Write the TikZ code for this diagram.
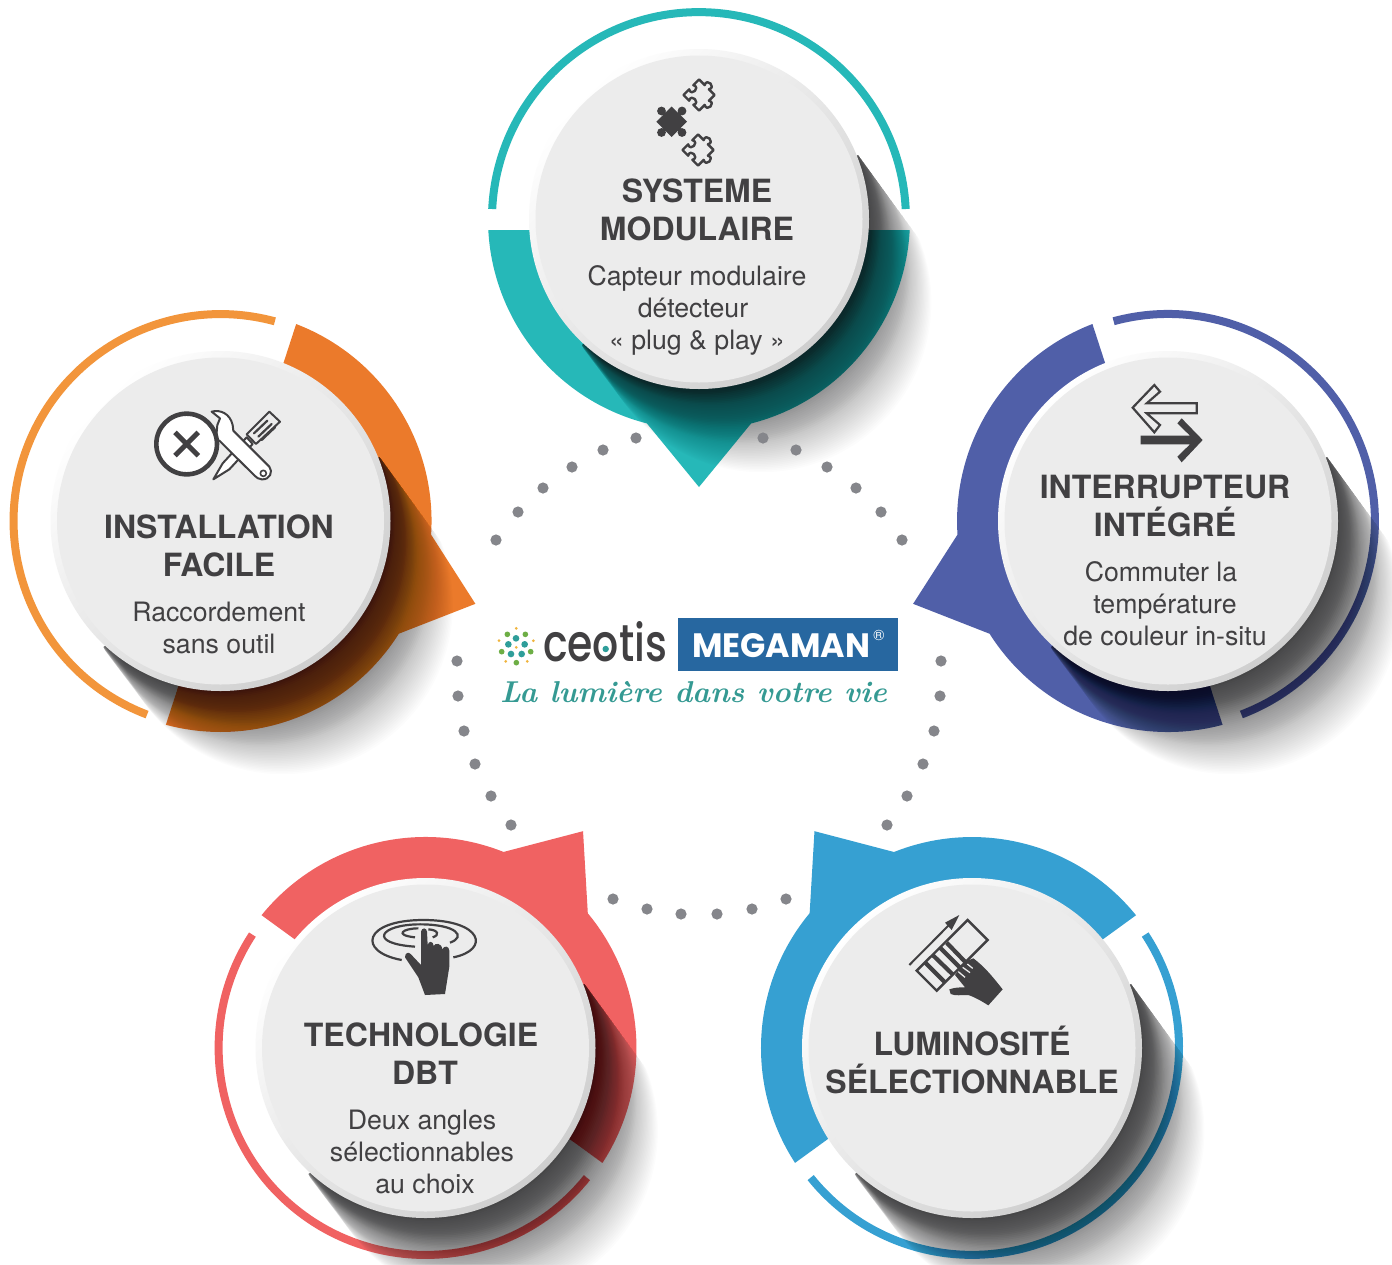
\documentclass[tikz,border=0pt]{standalone}
\usepackage{fontspec}
\usepackage{graphicx}
\setmainfont{TeX Gyre Heros}
\newfontfamily\pop{Poppins}
\newfontfamily\popm{Poppins Medium}
\definecolor{ink}{HTML}{414042}
\definecolor{dotgrey}{HTML}{85868B}
\definecolor{teal}{HTML}{26B8B8}
\definecolor{orangeA}{HTML}{EB7A2B}
\definecolor{orangeB}{HTML}{F2953B}
\definecolor{indigo}{HTML}{505FA8}
\definecolor{coral}{HTML}{F06262}
\definecolor{sky}{HTML}{36A0D2}
\definecolor{shadowcol}{HTML}{0A0A0C}
\definecolor{megablue}{HTML}{2767A0}
\definecolor{tagteal}{HTML}{359A93}
\definecolor{logoteal}{HTML}{2E9E9A}
\definecolor{logogreen}{HTML}{6DAE45}
\definecolor{logoyellow}{HTML}{F0B43C}
\tikzset{
  titletxt/.style={anchor=base,text=ink,inner sep=0pt,font=\fontsize{32}{38}\selectfont\bfseries},
  bodytxt/.style={anchor=base,text=ink,inner sep=0pt,font=\fontsize{26.7}{32}\selectfont},
  dotmark/.style={fill=dotgrey},
  iconline/.style={draw=ink,line join=round,line cap=round},
}
\newcommand{\modshape}[5]{%
  \begin{scope}[shift={(#1,#2)},rotate=#3]
    \fill[#4] (-210.7,11) arc[start angle=177,end angle=104.3,radius=211]
      -- (0,268) -- (52.1,204.5) arc[start angle=75.7,end angle=3,radius=211] -- cycle;
    \draw[#5,line width=8pt] (-206.8,-10) arc[start angle=182.8,end angle=357.2,radius=207];
  \end{scope}}
\newcommand{\modshadow}[2]{%
  \begin{scope}[shift={(#1,#2)}]
    \clip (159,-64) -- ++(236,324) -- ++(-400,100) -- (-117,126) -- cycle;
    \foreach \t in {2,4,...,104}{
      \pgfmathsetmacro\al{\t<30?0.04:(\t<50?0.026:(\t<70?0.018:0.013))}
      \fill[shadowcol,opacity=\al] ({\t*0.6},{\t*0.8}) circle[radius=170];
    }
  \end{scope}}
\newcommand{\moddisc}[2]{%
  \begin{scope}[shift={(#1,#2)}]
    \shade[top color=white,bottom color=D4col,shading angle=45] (0,0) circle[radius=170];
    \fill[facecol] (0,0) circle[radius=163.5];
  \end{scope}}
\definecolor{D4col}{HTML}{CECECE}
\definecolor{facecol}{HTML}{ECECEC}
\newcommand{\puzzle}[3]{%
  \draw[iconline,line width=2.4pt,shift={(#1,#2)},rotate=#3]
    (-11,-11) -- (-3,-11) .. controls (-7,-18) and (7,-18) .. (3,-11) -- (11,-11)
    -- (11,-3) .. controls (18,-7) and (18,7) .. (11,3) -- (11,11)
    -- (3,11) .. controls (7,4) and (-7,4) .. (-3,11) -- (-11,11)
    -- (-11,3) .. controls (-4,7) and (-4,-7) .. (-11,-3) -- cycle;}
\begin{document}
\begin{tikzpicture}[x=1pt,y=1pt,yscale=-1]
\useasboundingbox (0,0) rectangle (1392,1264);
\fill[white] (0,0) rectangle (1392,1264);

% coloured shapes
\modshape{699}{219}{0}{teal}{teal}
\modshape{220.5}{521}{-72}{orangeA}{orangeB}
\modshape{1168}{521}{72}{indigo}{indigo}
\modshape{425.5}{1048}{-144}{coral}{coral}
\modshape{972}{1048}{144}{sky}{sky}

% long shadows
\modshadow{699}{219}
\modshadow{220.5}{521}
\modshadow{1168}{521}
\modshadow{425.5}{1048}
\modshadow{972}{1048}

% discs
\moddisc{699}{219}
\moddisc{220.5}{521}
\moddisc{1168}{521}
\moddisc{425.5}{1048}
\moddisc{972}{1048}

% dotted ring
\foreach \x/\y in {636/438,603/450,572/467,543/488,518/512,496/540,
  763/438,796/450,827/467,856/488,881/512,902/540,
  457/661,458/696,464/731,475/764,491/796,511/825,
  941/661,940/696,934/731,923/764,907/796,887/825,
  613/899,647/909,681/914,717/914,752/909,786/899}
  \fill[dotmark] (\x,\y) circle[radius=5.6];

% top texts
\node[titletxt] (t1a) at (697,202) {SYSTEME};
\node[titletxt] (t1b) at (697,240) {MODULAIRE};
\node[bodytxt] (b1a) at (697,285) {Capteur modulaire};
\node[bodytxt] (b1b) at (693,317) {détecteur};
\node[bodytxt] (b1c) at (697,349) {« plug \& play »};
% left
\node[titletxt] (t2a) at (219,538) {INSTALLATION};
\node[titletxt] (t2b) at (219,576) {FACILE};
\node[bodytxt] (b2a) at (219,621) {Raccordement};
\node[bodytxt] (b2b) at (219,653) {sans outil};
% right
\node[titletxt] (t3a) at (1165,498) {INTERRUPTEUR};
\node[titletxt] (t3b) at (1165,536) {INTÉGRÉ};
\node[bodytxt] (b3a) at (1161,581) {Commuter la};
\node[bodytxt] (b3b) at (1165,613) {température};
\node[bodytxt] (b3c) at (1165,645) {de couleur in-situ};
% bottom left
\node[titletxt] (t4a) at (421,1046) {TECHNOLOGIE};
\node[titletxt] (t4b) at (425,1084) {DBT};
\node[bodytxt] (b4a) at (422,1129) {Deux angles};
\node[bodytxt] (b4b) at (422,1161) {sélectionnables};
\node[bodytxt] (b4c) at (425,1193) {au choix};
% bottom right
\node[titletxt] (t5a) at (972,1055) {LUMINOSITÉ};
\node[titletxt] (t5b) at (972,1093) {SÉLECTIONNABLE};

% puzzle icon
\fill[ink] (671.7,106.5) -- (687,121.7) -- (671.7,137) -- (656.4,121.7) -- cycle;
\foreach \x in {661.5,682}{\foreach \y in {111,132.5}{
  \fill[ink] (\x,\y) circle[radius=4.4];
  \draw[ink,line width=4pt] (671.7,121.7) -- (\x,\y);}}
\puzzle{699}{95}{45}
\puzzle{698}{150}{45}

% tools icon
\begin{scope}[shift={(130,400)},scale=1/3]
  \draw[iconline,line width=2pt,fill=facecol] (418,35) -- (450,65) -- (378,132) -- (350,103) -- cycle;
  \draw[iconline,line width=2.2pt] (372,100) -- (412,62) (385,110) -- (425,72) (395,120) -- (435,82);
  \draw[iconline,line width=2pt,fill=white] (350,112) -- (368,132) -- (298,208) -- (250,238) -- (278,190) -- cycle;
  \draw[iconline,line width=2pt,fill=white]
    (245,35) .. controls (270,28) and (300,40) .. (308,75) -- (310,92) -- (418,200)
    .. controls (430,215) and (420,240) .. (395,238) .. controls (385,238) and (380,232) .. (375,228)
    -- (268,122) -- (258,118) -- (262,75) -- (270,55) -- cycle;
  \draw[iconline,line width=1.6pt] (400,220) circle[radius=9];
  \draw[draw=ink,fill=white,line width=4.6pt] (170,132) circle[radius=91];
  \draw[draw=ink,line width=5pt] (135,97) -- (205,167) (205,97) -- (135,167);
\end{scope}

% arrows icon
\begin{scope}[shift={(1110,370)},scale=1/3]
  \draw[iconline,line width=2.2pt,line cap=butt,line join=miter]
    (68,113) -- (133,45) -- (150,65) -- (110,100) -- (260,100) -- (260,130)
    -- (110,130) -- (150,165) -- (133,187) -- cycle;
  \fill[ink] (92,197) -- (240,197) -- (202,160) -- (215,145) -- (278,210) -- (215,277)
    -- (202,260) -- (240,223) -- (92,223) -- cycle;
\end{scope}

% touch icon
\begin{scope}[shift={(350,900)},scale=1/3]
  \draw[draw=ink,line width=2.2pt] (155,180) .. controls (20,155) and (40,60) .. (220,60)
    .. controls (400,60) and (420,150) .. (310,172);
  \draw[draw=ink,line width=2.2pt] (195,140) .. controls (50,130) and (90,73) .. (210,73)
    .. controls (320,73) and (350,110) .. (300,128);
  \draw[draw=ink,line width=2.2pt] (195,112) .. controls (130,105) and (160,85) .. (205,85)
    (235,88) .. controls (265,90) and (270,105) .. (248,112);
  \fill[ink] (213,95) .. controls (215,82) and (230,82) .. (231,95) -- (233,135)
    .. controls (235,122) and (250,122) .. (251,138) .. controls (255,128) and (275,128) .. (277,148)
    .. controls (282,135) and (298,138) .. (298,152) -- (298,200) -- (285,282) -- (225,285)
    -- (205,232) -- (165,172) .. controls (165,158) and (175,155) .. (182,162) -- (213,195) -- cycle;
\end{scope}

% slider icon
\begin{scope}[shift={(890,900)},scale=1/3]
  \draw[draw=ink,line width=2pt] (58,195) -- (180,72);
  \fill[ink] (208,45) -- (165,68) -- (185,90) -- cycle;
  \draw[draw=ink,line width=2.4pt,line join=miter] (233,60) -- (293,120) -- (140,272) -- (80,212) -- cycle;
  \draw[draw=ink,line width=4.2pt] (105,187) -- (165,247) (128,165) -- (190,225)
    (150,143) -- (210,203) (170,128) -- (225,185);
  \fill[ink] (178,268) .. controls (195,262) and (210,262) .. (225,262) -- (195,225) -- (225,185)
    -- (250,175) .. controls (290,205) and (315,240) .. (338,268) -- (295,316)
    .. controls (270,300) and (250,290) .. (235,285) .. controls (215,285) and (195,288) .. (182,282) -- cycle;
  \draw[draw=facecol,line width=1.3pt] (205,215) -- (225,232) (218,202) -- (240,218) (232,192) -- (248,205);
\end{scope}

% logo
\begin{scope}[shift={(480,600)},scale=1/3]
  \foreach \x/\y in {108/115,85/133,134/133,93/162,125/162}
    \fill[logoteal] (\x,\y) circle[radius=10];
  \foreach \x/\y in {82/103,136/103,65/155,152/155,109/188}
    \fill[logogreen] (\x,\y) circle[radius=8.5];
  \foreach \x/\y in {109/85,57/122,160/122,109/142,77/184,142/184}
    \fill[logoyellow] (\x,\y) circle[radius=4.5];
\end{scope}
\node[anchor=base,inner sep=0pt,text=ink] (ceotis) at (605,661.5)
  {\resizebox{124pt}{40pt}{\popm\fontsize{44}{48}\selectfont ceotis}};
\fill[logoteal] (605.7,649) circle[radius=3.2];
\fill[megablue] (678,618) rectangle (898,671);
\node[anchor=base,inner sep=0pt,text=white,font=\pop\bfseries\fontsize{34}{40}\selectfont] (mega) at (781,657)
  {\resizebox{178pt}{24pt}{MEGAMAN}};
\node[inner sep=0pt,text=white,font=\fontsize{15}{16}\selectfont] (reg) at (879,635) {®};
\node[anchor=base,inner sep=0pt,text=tagteal] (tag) at (693.5,702)
  {\resizebox{387pt}{!}{\fontfamily{lmr}\fontseries{bx}\fontshape{it}\fontsize{34}{38}\selectfont La lumière dans votre vie}};
\end{tikzpicture}
\end{document}
